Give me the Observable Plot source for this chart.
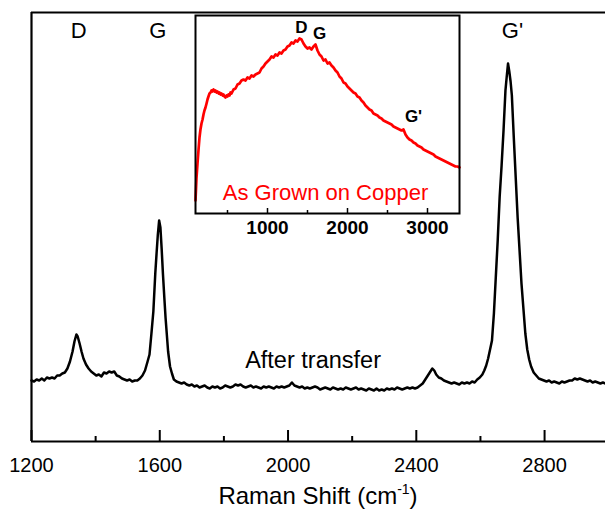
<!DOCTYPE html>
<html><head><meta charset="utf-8">
<script src="https://cdn.jsdelivr.net/npm/d3@7"></script>
<script src="https://cdn.jsdelivr.net/npm/@observablehq/plot@0.6"></script>
<style>
body{margin:0;background:#fff;font-family:'Liberation Sans',Arial,sans-serif;}
#wrap{position:relative;width:605px;height:511px;overflow:hidden;}
#main{position:absolute;left:0;top:0;}
#inset{position:absolute;left:175px;top:0;}
#xlabel{position:absolute;left:31px;width:574px;top:484px;text-align:center;font-size:24px;line-height:24px;color:#000;white-space:nowrap;}
#xlabel sup{font-size:14px;vertical-align:baseline;position:relative;top:-10px;}
</style></head><body>
<div id="wrap"><div id="main"></div><div id="inset"></div><div id="xlabel">Raman Shift (cm<sup>-1</sup>)</div></div>
<script>
// ---- Main spectrum: "After transfer" ----
const afterShift = [1200,1208,1216,1224,1232,1240,1248,1256,1264,1272,1280,1288,1296,1304,1312,1320,1328,1334,1340,1344,1350,1356,1362,1370,1378,1386,1394,1402,1410,1418,1426,1434,1442,1450,1458,1466,1474,1482,1490,1498,1506,1514,1522,1530,1538,1546,1554,1562,1568,1574,1580,1586,1590,1594,1598,1602,1606,1610,1614,1618,1622,1626,1632,1638,1644,1652,1660,1668,1676,1684,1692,1700,1708,1716,1724,1732,1740,1748,1756,1764,1772,1780,1788,1796,1804,1812,1820,1828,1836,1844,1852,1860,1868,1876,1884,1892,1900,1908,1916,1924,1932,1940,1948,1956,1964,1972,1980,1988,1996,2004,2012,2020,2028,2036,2044,2052,2060,2068,2076,2084,2092,2100,2108,2116,2124,2132,2140,2148,2156,2164,2172,2180,2188,2196,2204,2212,2220,2228,2236,2244,2252,2260,2268,2276,2284,2292,2300,2308,2316,2324,2332,2340,2348,2356,2364,2372,2380,2388,2396,2404,2412,2420,2428,2436,2444,2450,2456,2462,2470,2478,2486,2494,2502,2510,2518,2526,2534,2542,2550,2558,2566,2574,2582,2590,2598,2606,2612,2618,2624,2630,2636,2642,2648,2654,2660,2666,2672,2678,2682,2686,2690,2694,2698,2704,2710,2716,2722,2728,2734,2740,2746,2752,2758,2766,2774,2782,2790,2798,2806,2814,2822,2830,2838,2846,2854,2862,2870,2878,2886,2894,2902,2910,2918,2926,2934,2942,2950,2958,2966,2974,2982,2990];
const afterIntensity = [61,60,62,61,63,61,64,63,64,63,66,66,68,69,73,80,90,100,107,105,98,90,83,77,73,70,68,66,67,65,69,68,70,69,70,66,65,63,62,61,62,60,61,61,63,66,71,80,87,108,130,168,188,207,221,214,192,167,145,124,107,90,75,68,62,60,59,58,59,57,56,57,55,56,54,55,56,54,53,55,54,55,53,54,56,55,54,55,57,56,57,55,54,55,56,54,55,54,53,55,54,55,54,53,55,54,55,54,55,56,59,56,55,54,55,53,54,53,54,55,54,52,53,54,53,52,54,53,52,53,52,54,53,52,53,54,52,53,52,51,53,52,51,53,51,52,51,53,52,53,52,54,53,52,53,54,53,54,53,54,56,58,62,66,70,73,71,67,64,63,61,60,59,58,59,58,57,59,58,59,58,60,59,62,64,67,71,76,83,92,101,128,165,202,245,276,311,351,365,378,370,360,346,304,264,224,191,158,133,108,92,82,75,69,66,63,62,61,60,61,59,60,59,58,60,59,60,61,61,63,62,63,62,61,60,61,59,60,59,58,59,58];

// ---- Inset spectrum: "As Grown on Copper" ----
const grownShift = [100,112,125,138,150,162,175,188,200,212,225,238,250,262,275,288,300,312,325,338,350,362,375,388,400,412,425,438,450,462,475,488,500,512,525,538,550,575,600,625,650,675,700,725,750,775,800,825,850,875,900,925,950,975,1000,1025,1050,1075,1100,1125,1150,1175,1200,1225,1250,1275,1300,1325,1350,1375,1400,1425,1450,1475,1500,1525,1550,1575,1600,1625,1650,1675,1700,1725,1750,1775,1800,1825,1850,1875,1900,1925,1950,1975,2000,2025,2050,2075,2100,2125,2150,2175,2200,2225,2250,2275,2300,2325,2350,2375,2400,2425,2450,2475,2500,2525,2550,2575,2600,2625,2650,2675,2700,2725,2750,2775,2800,2825,2850,2875,2900,2925,2950,2975,3000,3025,3050,3075,3100,3125,3150,3175,3200,3225,3250,3275,3300,3325,3350,3375,3400];
const grownIntensity = [13,35,50,64,76,84,90,94,99,103,106,110,114,117,120,121,123,122,124,122,123,121,122,120,121,119,120,118,119,117,116,118,117,119,118,121,120,124,125,129,130,133,134,133,136,135,138,137,139,140,141,145,147,150,152,154,157,156,159,158,161,160,163,164,167,168,171,170,173,172,175,174,170,167,165,166,164,167,169,163,159,157,153,154,150,151,148,146,143,141,137,135,131,130,127,125,123,121,120,117,116,113,111,108,106,104,103,100,99,98,96,95,93,92,91,90,89,87,86,85,84,83,84,79,76,74,73,71,70,68,67,66,64,63,62,61,60,59,57,56,55,54,53,52,51,50,49,48,47,47,46];

// ---- Ticks and labels ----
const majorTicks = [1200, 1600, 2000, 2400, 2800];
const minorTicks = [1400, 1800, 2200, 2600];
const insetMajorTicks = [1000, 2000, 3000];
const insetMinorTicks = [500, 1500, 2500];
const peakLabels = ["D", "G", "G'"];
const peakShift = [1347, 1594, 2700];
const insetPeakLabels = ["D", "G", "G'"];
const insetPeakShift = [1425, 1650, 2825];
const insetPeakY = [186, 180, 97];

const font = "'Liberation Sans', Arial, sans-serif";
const yMain = [0, 429];
const yInset = [0, 198];

const afterData = afterShift.map((x, i) => ({x, y: afterIntensity[i]}));
const grownData = grownShift.map((x, i) => ({x, y: grownIntensity[i]}));

const main = Plot.plot({
  width: 605, height: 480,
  marginLeft: 31, marginRight: 0, marginTop: 12, marginBottom: 39,
  x: {domain: [1200, 2990], label: null},
  y: {domain: yMain, axis: null, label: null},
  style: {fontFamily: font, fontSize: "20px", color: "black", background: "transparent", overflow: "visible"},
  marks: [
    Plot.ruleY(yMain, {stroke: "black", strokeWidth: 2.2}),
    Plot.ruleX([1200], {stroke: "black", strokeWidth: 2.2}),
    Plot.axisX(majorTicks, {tickSize: -11, strokeWidth: 2, tickFormat: () => ""}),
    Plot.axisX(minorTicks, {tickSize: -5, strokeWidth: 2, tickFormat: () => ""}),
    Plot.axisX(majorTicks, {tickSize: 0, tickPadding: 16, fontSize: 20, tickFormat: "d"}),
    Plot.line(afterData, {x: "x", y: "y", stroke: "black", strokeWidth: 2.5, strokeLinejoin: "round"}),
    Plot.text(peakLabels, {x: peakShift, y: 411, text: d => d, fontSize: 22, fill: "black"}),
    Plot.text(["After transfer"], {x: 2078, y: 81, text: d => d, fontSize: 23.5, fill: "black"})
  ]
});
document.getElementById("main").append(main);

const inset = Plot.plot({
  width: 300, height: 245,
  marginLeft: 20, marginRight: 16, marginTop: 15, marginBottom: 32,
  x: {domain: [100, 3400], label: null},
  y: {domain: yInset, axis: null, label: null},
  style: {fontFamily: font, fontSize: "19px", color: "black", background: "transparent", overflow: "visible"},
  marks: [
    Plot.frame({fill: "white", stroke: null}),
    Plot.axisX(insetMajorTicks, {tickSize: -5, strokeWidth: 1.5, tickFormat: () => ""}),
    Plot.axisX(insetMinorTicks, {tickSize: -3, strokeWidth: 1.5, tickFormat: () => ""}),
    Plot.axisX(insetMajorTicks, {tickSize: 0, tickPadding: 7, fontSize: 19, fontWeight: "bold", tickFormat: "d"}),
    Plot.line(grownData, {x: "x", y: "y", stroke: "#ff0000", strokeWidth: 2.7, strokeLinejoin: "round"}),
    Plot.text(insetPeakLabels, {x: insetPeakShift, y: insetPeakY, text: d => d, fontSize: 17, fontWeight: "bold", fill: "black"}),
    Plot.text(["As Grown on Copper"], {x: 1725, y: 21, text: d => d, fontSize: 22, fill: "#ff0000"}),
    Plot.frame({stroke: "black", strokeWidth: 2})
  ]
});
document.getElementById("inset").append(inset);
</script>
</body></html>
